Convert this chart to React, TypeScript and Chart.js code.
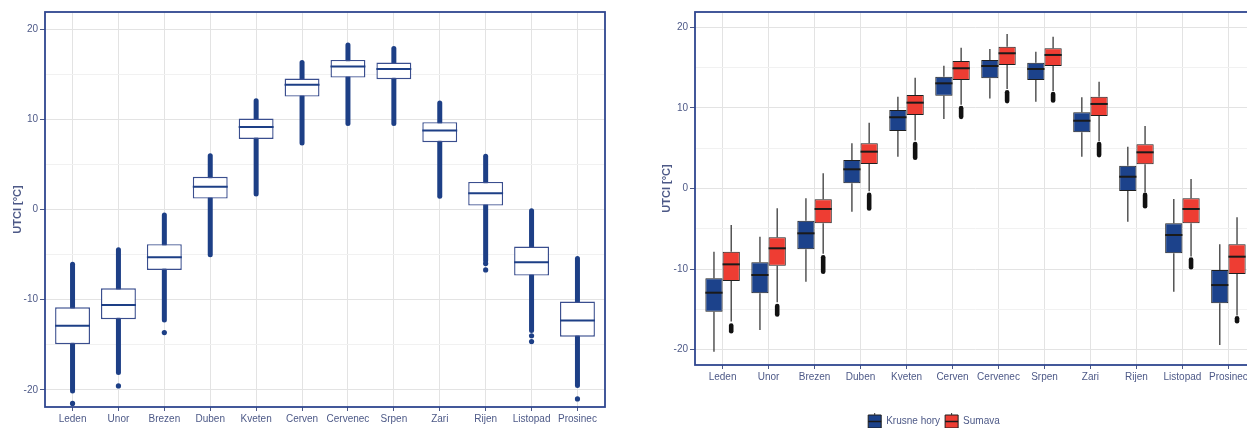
import React, { useEffect, useRef } from 'react';
import { Chart, registerables } from 'chart.js';

Chart.register(...registerables);

// ---------- data ----------
const months = ['Leden', 'Unor', 'Brezen', 'Duben', 'Kveten', 'Cerven', 'Cervenec', 'Srpen', 'Zari', 'Rijen', 'Listopad', 'Prosinec'];
const yTicks = [-20, -15, -10, -5, 0, 5, 10, 15, 20];

// left panel (single series)
const leftQ1 = [-14.94, -12.17, -6.7, 1.21, 7.83, 12.52, 14.63, 14.45, 7.46, 0.43, -7.33, -14.1];
const leftMed = [-12.9, -10.58, -5.29, 2.51, 9.16, 13.82, 15.85, 15.59, 8.75, 1.81, -5.84, -12.32];
const leftQ3 = [-10.84, -8.73, -3.85, 3.62, 10.08, 14.52, 16.59, 16.29, 9.68, 3.06, -4.11, -10.21];
const leftLow = [-20.4, -18.34, -12.54, -5.29, 1.43, 7.09, 9.27, 9.27, 1.18, -5.96, -13.7, -19.8];
const leftHigh = [-5.78, -4.18, -0.34, 6.24, 12.34, 16.59, 18.51, 18.14, 12.08, 6.17, 0.14, -5.15];
const leftOutMonth = [1, 2, 3, 10, 10, 11, 11, 12];
const leftOutVal = [-21.5, -19.56, -13.65, -6.0, -6.7, -14.0, -14.65, -21.0];

// right panel: Krusne hory
const khQ1 = [-15.29, -13.0, -7.55, 0.64, 7.14, 11.52, 13.68, 13.46, 6.97, -0.31, -8.04, -14.25];
const khMed = [-12.93, -10.73, -5.56, 2.38, 8.84, 13.05, 15.2, 14.83, 8.41, 1.46, -5.77, -11.98];
const khQ3 = [-11.15, -9.16, -4.0, 3.54, 9.74, 13.88, 15.95, 15.61, 9.45, 2.83, -4.32, -10.11];
const khLo = [-20.25, -17.56, -11.56, -2.88, 3.95, 8.62, 11.16, 10.77, 3.95, -4.12, -12.8, -19.42];
const khHi = [-7.84, -5.98, -1.22, 5.61, 11.39, 15.24, 17.31, 16.98, 11.32, 5.19, -1.3, -6.93];

// right panel: Sumava
const suQ1 = [-11.48, -9.58, -4.32, 3.04, 9.12, 13.46, 15.33, 15.2, 9.0, 3.0, -4.32, -10.61];
const suMed = [-9.41, -7.42, -2.54, 4.57, 10.65, 14.92, 16.78, 16.57, 10.49, 4.49, -2.54, -8.46];
const suQ3 = [-7.84, -6.06, -1.34, 5.61, 11.6, 15.82, 17.6, 17.4, 11.39, 5.49, -1.22, -6.93];
const suLo = [-16.5, -14.1, -8.1, -0.35, 5.95, 10.4, 12.35, 12.1, 5.85, -0.45, -8.45, -15.75];
const suHi = [-4.53, -2.46, 1.89, 8.17, 13.75, 17.47, 19.17, 18.84, 13.25, 7.76, 1.18, -3.57];
const suOutTop = [-16.73, -14.3, -8.25, -0.52, 5.8, 10.24, 12.22, 12.0, 5.8, -0.52, -8.54, -15.82];
const suOutBot = [-17.97, -15.9, -10.6, -2.75, 3.54, 8.62, 10.57, 10.65, 3.87, -2.46, -10.03, -16.73];

const seriesNames = ['Krusne hory', 'Sumava'];

// ---------- styles ----------
const FONT = "'Liberation Sans', Arial, Helvetica, sans-serif";
const TEXT = '#4d5987';
const NAVY = '#1d3f86';
const NAVY_BORDER = '#3a4e8e';
const PANEL = '#2f4690';
const BLUE = '#1c428b';
const RED = '#ee3d33';
const GRID_MAJOR = '#e3e3e3';
const GRID_MINOR = '#f1f1f1';

Chart.defaults.font.family = FONT;
Chart.defaults.color = TEXT;

function vline(ctx: any, x: number, y1: number, y2: number, w: number, color: string, cap: string) {
  ctx.save();
  ctx.beginPath();
  ctx.lineWidth = w;
  ctx.strokeStyle = color;
  ctx.lineCap = cap;
  ctx.moveTo(x, y1);
  ctx.lineTo(x, y2);
  ctx.stroke();
  ctx.restore();
}
function hline(ctx: any, x1: number, x2: number, y: number, w: number, color: string) {
  ctx.save();
  ctx.beginPath();
  ctx.lineWidth = w;
  ctx.strokeStyle = color;
  ctx.moveTo(x1, y);
  ctx.lineTo(x2, y);
  ctx.stroke();
  ctx.restore();
}

function scales(yWidth: number, xHeight: number, titlePad: number) {
  return {
    x: {
      type: 'linear',
      min: 0.4,
      max: 12.6,
      offset: false,
      border: { display: false },
      grid: { offset: false, color: GRID_MAJOR, tickColor: TEXT, tickLength: 4, lineWidth: 1 },
      afterBuildTicks: (s: any) => { s.ticks = months.map((_, i) => ({ value: i + 1 })); },
      ticks: {
        autoSkip: false, maxRotation: 0, minRotation: 0, padding: 2,
        font: { size: 10 }, color: TEXT,
        callback: (v: any) => months[Math.round(v) - 1] || '',
      },
      afterFit: (s: any) => { s.height = xHeight; },
    },
    y: {
      type: 'linear',
      min: -21.9,
      max: 21.9,
      border: { display: false },
      afterBuildTicks: (s: any) => { s.ticks = yTicks.map((v) => ({ value: v })); },
      grid: {
        color: (c: any) => (c.tick && c.tick.value % 10 === 0 ? GRID_MAJOR : GRID_MINOR),
        tickColor: (c: any) => (c.tick && c.tick.value % 10 === 0 ? TEXT : 'rgba(0,0,0,0)'),
        tickLength: 5,
        lineWidth: 1,
      },
      ticks: {
        padding: 2, font: { size: 10 }, color: TEXT,
        callback: (v: any) => (v % 10 === 0 ? String(v) : ''),
      },
      title: {
        display: true, text: 'UTCI [°C]', color: TEXT,
        font: { size: 11, weight: 'bold' }, padding: { top: titlePad, bottom: 0 },
      },
      afterFit: (s: any) => { s.width = yWidth; },
    },
  };
}

function LeftChart() {
  const ref = useRef<HTMLCanvasElement>(null);
  useEffect(() => {
    const leftPlugin = {
      id: 'leftBoxplot',
      beforeDatasetsDraw(chart: any) {
        const { ctx } = chart;
        const xs = chart.scales.x, ys = chart.scales.y;
        months.forEach((_, i) => {
          const x = xs.getPixelForValue(i + 1);
          vline(ctx, x, ys.getPixelForValue(leftQ1[i]), ys.getPixelForValue(leftLow[i]) - 2.5, 5, NAVY, 'round');
          vline(ctx, x, ys.getPixelForValue(leftQ3[i]), ys.getPixelForValue(leftHigh[i]) + 2.5, 5, NAVY, 'round');
        });
      },
      afterDatasetsDraw(chart: any) {
        const { ctx } = chart;
        const ys = chart.scales.y;
        const meta = chart.getDatasetMeta(0);
        meta.data.forEach((el: any, i: number) => {
          const y = ys.getPixelForValue(leftMed[i]);
          hline(ctx, el.x - el.width / 2, el.x + el.width / 2, y, 2, NAVY);
        });
      },
      afterDraw(chart: any) {
        const { ctx, chartArea: a } = chart;
        ctx.save();
        ctx.strokeStyle = PANEL;
        ctx.lineWidth = 1.8;
        ctx.strokeRect(a.left, a.top, a.right - a.left, a.bottom - a.top);
        ctx.restore();
      },
    };
    const chart = new Chart(ref.current as any, {
      type: 'bar',
      data: {
        datasets: [
          {
            type: 'bar',
            label: 'UTCI',
            data: months.map((_, i) => ({ x: i + 1, y: [leftQ1[i], leftQ3[i]] })),
            backgroundColor: '#ffffff',
            borderColor: NAVY_BORDER,
            borderWidth: 1.4,
            borderSkipped: false,
            categoryPercentage: 0.76,
            barPercentage: 1,
            grouped: false,
            order: 1,
          },
          {
            type: 'scatter',
            label: 'outliers',
            data: leftOutMonth.map((m, i) => ({ x: m, y: leftOutVal[i] })),
            pointRadius: 2.6,
            backgroundColor: NAVY,
            borderWidth: 0,
            order: 0,
          },
        ],
      } as any,
      options: {
        responsive: false,
        animation: false,
        layout: { padding: { left: 0, right: 6, top: 12, bottom: 0 } },
        plugins: { legend: { display: false }, tooltip: { enabled: false } },
        scales: scales(45, 21, 11.4) as any,
      },
      plugins: [leftPlugin],
    });
    return () => chart.destroy();
  }, []);
  return (
    <canvas ref={ref} width={611} height={428}
      style={{ position: 'absolute', left: 0, top: 0, width: 611, height: 428 }} />
  );
}

function RightChart() {
  const ref = useRef<HTMLCanvasElement>(null);
  useEffect(() => {
    const q1s = [khQ1, suQ1], q3s = [khQ3, suQ3], meds = [khMed, suMed], los = [khLo, suLo], his = [khHi, suHi];
    const rightPlugin = {
      id: 'rightBoxplot',
      beforeDatasetsDraw(chart: any) {
        const { ctx } = chart;
        const ys = chart.scales.y;
        [0, 1].forEach((d) => {
          const meta = chart.getDatasetMeta(d);
          meta.data.forEach((el: any, i: number) => {
            vline(ctx, el.x, ys.getPixelForValue(q1s[d][i]), ys.getPixelForValue(los[d][i]), 1.3, '#3a3a3a', 'butt');
            vline(ctx, el.x, ys.getPixelForValue(q3s[d][i]), ys.getPixelForValue(his[d][i]), 1.3, '#3a3a3a', 'butt');
            if (d === 1) {
              vline(ctx, el.x, ys.getPixelForValue(suOutTop[i]) + 2.2, ys.getPixelForValue(suOutBot[i]) - 2.2, 4.6, '#111111', 'round');
            }
          });
        });
      },
      afterDatasetsDraw(chart: any) {
        const { ctx } = chart;
        const ys = chart.scales.y;
        [0, 1].forEach((d) => {
          const meta = chart.getDatasetMeta(d);
          meta.data.forEach((el: any, i: number) => {
            hline(ctx, el.x - el.width / 2, el.x + el.width / 2, ys.getPixelForValue(meds[d][i]), 2, '#1a1a1a');
          });
        });
      },
      afterDraw(chart: any) {
        const { ctx, chartArea: a } = chart;
        ctx.save();
        ctx.strokeStyle = PANEL;
        ctx.lineWidth = 1.8;
        ctx.strokeRect(a.left, a.top, a.right - a.left, a.bottom - a.top);
        ctx.restore();
        const lg = chart.legend;
        if (lg && lg.legendHitBoxes) {
          lg.legendHitBoxes.forEach((hb: any) => {
            const cy = hb.top + 6.5;
            hline(ctx, hb.left, hb.left + 13, cy, 1.5, '#1a1a1a');
            vline(ctx, hb.left + 6.5, hb.top - 2, hb.top, 1, '#333', 'butt');
            vline(ctx, hb.left + 6.5, hb.top + 13, hb.top + 15, 1, '#333', 'butt');
          });
        }
      },
    };
    const chart = new Chart(ref.current as any, {
      type: 'bar',
      data: {
        datasets: [
          {
            label: seriesNames[0],
            data: months.map((_, i) => ({ x: i + 1, y: [khQ1[i], khQ3[i]] })),
            backgroundColor: BLUE,
            borderColor: '#1f1f1f',
            borderWidth: 1,
            borderSkipped: false,
            categoryPercentage: 0.75,
            barPercentage: 1,
          },
          {
            label: seriesNames[1],
            data: months.map((_, i) => ({ x: i + 1, y: [suQ1[i], suQ3[i]] })),
            backgroundColor: RED,
            borderColor: '#1f1f1f',
            borderWidth: 1,
            borderSkipped: false,
            categoryPercentage: 0.75,
            barPercentage: 1,
          },
        ],
      } as any,
      options: {
        responsive: false,
        animation: false,
        layout: { padding: { left: 0, right: 6, top: 12, bottom: 0 } },
        plugins: {
          tooltip: { enabled: false },
          legend: {
            display: true,
            position: 'bottom',
            align: 'center',
            labels: { boxWidth: 13, boxHeight: 13, padding: 5, font: { size: 10 }, color: TEXT },
          },
        },
        scales: scales(83, 45, 48.4) as any,
      },
      plugins: [rightPlugin],
    });
    return () => chart.destroy();
  }, []);
  return (
    <canvas ref={ref} width={650} height={438}
      style={{ position: 'absolute', left: 612, top: 0, width: 650, height: 438 }} />
  );
}

export default function App() {
  return (
    <div style={{ position: 'fixed', left: 0, top: 0, width: 1247, height: 428, overflow: 'hidden', background: '#ffffff' }}>
      <LeftChart />
      <RightChart />
    </div>
  );
}
